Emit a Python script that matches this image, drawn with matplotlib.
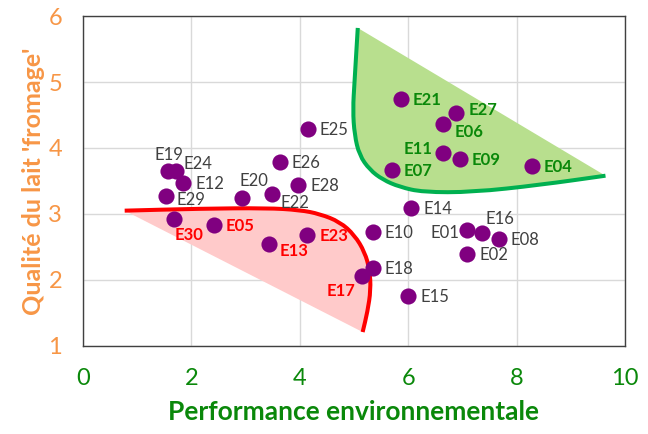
import numpy as np
import matplotlib
matplotlib.use("Agg")
import matplotlib.pyplot as plt
from matplotlib.path import Path
from matplotlib.patches import PathPatch

plt.rcParams["font.family"] = ["Lato", "DejaVu Sans"]

# élevages : performance environnementale (x) et qualité du lait 'fromage' (y)
labels = ["E25", "E19", "E24", "E12", "E29", "E20", "E26", "E28", "E22",
          "E30", "E05", "E13", "E23", "E10", "E14", "E18", "E17", "E15",
          "E01", "E16", "E08", "E02", "E21", "E27", "E06", "E11", "E09",
          "E07", "E04"]
perf_env = [4.15, 1.56, 1.71, 1.85, 1.54, 2.93, 3.63, 3.97, 3.49,
            1.68, 2.42, 3.43, 4.14, 5.35, 6.06, 5.35, 5.15, 6.00,
            7.09, 7.36, 7.67, 7.09, 5.86, 6.88, 6.65, 6.64, 6.95,
            5.70, 8.28]
qualite = [4.29, 3.65, 3.65, 3.47, 3.27, 3.24, 3.79, 3.44, 3.30,
           2.92, 2.83, 2.55, 2.68, 2.72, 3.09, 2.18, 2.06, 1.75,
           2.75, 2.71, 2.62, 2.40, 4.74, 4.53, 4.36, 3.93, 3.84,
           3.67, 3.73]
groupe = ["", "", "", "", "", "", "", "", "",
          "r", "r", "r", "r", "", "", "", "r", "",
          "", "", "", "", "v", "v", "v", "v", "v",
          "v", "v"]

# contours tracés à la main (points de contrôle)
rouge_x = [0.77, 2.15, 3.39, 4.00, 4.37, 4.74, 5.01, 5.20, 5.29, 5.31, 5.25, 5.16]
rouge_y = [3.05, 3.08, 3.09, 3.06, 3.00, 2.88, 2.68, 2.42, 2.15, 1.85, 1.52, 1.21]
vert_x = [5.07, 5.01, 4.98, 5.01, 5.10, 5.29, 5.53, 5.84, 6.27, 7.19, 8.43, 9.64]
vert_y = [5.82, 5.00, 4.58, 4.20, 3.89, 3.67, 3.52, 3.41, 3.33, 3.33, 3.44, 3.58]

# décalage des étiquettes (pixels) et alignement
special = {
    "E19": (1, 16, "center"), "E24": (8, 7, "left"), "E20": (12, 17, "center"),
    "E22": (8, -9, "left"), "E30": (1, -16, "left"), "E13": (11, -7, "left"),
    "E17": (-7, -15, "right"), "E01": (-8, -3, "right"), "E16": (4, 14, "left"),
    "E11": (-10, 4, "right"), "E06": (11, -8, "left"), "E27": (13, 3, "left"),
    "E29": (10, -4, "left"),
}

GRIS = "#404040"
ROUGE = "#ff0000"
VERT = "#0a880a"
ORANGE = "#f79646"


def courbe(xs, ys, closed=False):
    # courbe lisse (béziers quadratiques passant par les milieux)
    p = np.column_stack([xs, ys])
    verts = [p[0], (p[0] + p[1]) / 2]
    codes = [Path.MOVETO, Path.LINETO]
    for i in range(1, len(p) - 1):
        verts += [p[i], (p[i] + p[i + 1]) / 2]
        codes += [Path.CURVE3, Path.CURVE3]
    verts.append(p[-1])
    codes.append(Path.LINETO)
    if closed:
        verts.append(p[0])
        codes.append(Path.LINETO)
    return Path(verts, codes)


fig = plt.figure(figsize=(6.48, 4.34), dpi=100)
ax = fig.add_axes([0.128, 0.203, 0.8365, 0.760])

ax.add_patch(PathPatch(courbe(vert_x, vert_y, True), fc="#b8df8e", lw=0, zorder=1))
ax.add_patch(PathPatch(courbe(vert_x, vert_y), fc="none", ec="#00b050", lw=2.9,
                       capstyle="butt", zorder=2))
ax.add_patch(PathPatch(courbe(rouge_x, rouge_y, True), fc="#ffcaca", lw=0, zorder=1))
ax.add_patch(PathPatch(courbe(rouge_x, rouge_y), fc="none", ec=ROUGE, lw=2.9,
                       capstyle="butt", zorder=2))

ax.scatter(perf_env, qualite, s=135, color="#800080", lw=0, zorder=3)

for lab, x, y, g in zip(labels, perf_env, qualite, groupe):
    dx, dy, ha = special.get(lab, (12, -1, "left"))
    if g == "r":
        c, w = ROUGE, "bold"
    elif g == "v":
        c, w = VERT, "bold"
    else:
        c, w = GRIS, "normal"
    ax.annotate(lab, (x, y), xytext=(dx, dy), textcoords="offset pixels",
                ha=ha, va="center", fontsize=12, color=c, fontweight=w, zorder=4)

ax.set_xlim(0, 10)
ax.set_ylim(1, 6)
ax.set_xticks(np.arange(0, 11, 2))
ax.set_yticks(np.arange(1, 7, 1))
ax.grid(color="#d9d9d9", lw=1)
ax.set_axisbelow(True)
ax.tick_params(length=0, labelsize=17)
ax.tick_params(axis="x", colors=VERT, pad=16)
ax.tick_params(axis="y", colors=ORANGE, pad=15)
for sp in ax.spines.values():
    sp.set_color(GRIS)
    sp.set_linewidth(1)

ax.set_xlabel("Performance environnementale", color=VERT, fontsize=19,
              fontweight="bold", labelpad=8)
ax.set_ylabel("Qualité du lait 'fromage'", color=ORANGE, fontsize=18,
              fontweight="bold", labelpad=2)

fig.savefig("out.png", dpi=100)
